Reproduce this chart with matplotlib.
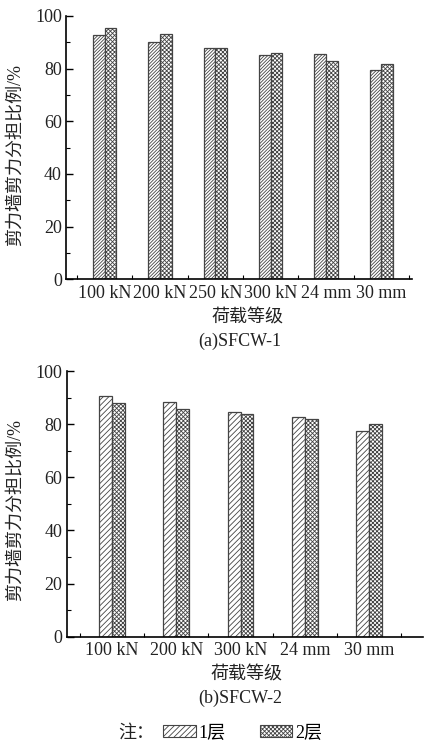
import matplotlib
matplotlib.use('Agg')
from matplotlib import pyplot as plt
from matplotlib.patches import Patch
from matplotlib.ticker import MultipleLocator, FixedLocator
import numpy as np

# data
cats_a = ['100 kN', '200 kN', '250 kN', '300 kN', '24 mm', '30 mm']
floor1_a = [92.8, 90.0, 87.7, 85.2, 85.4, 79.5]
floor2_a = [95.3, 93.0, 88.0, 86.0, 82.9, 81.7]

cats_b = ['100 kN', '200 kN', '300 kN', '24 mm', '30 mm']
floor1_b = [90.6, 88.2, 84.4, 82.6, 77.4]
floor2_b = [88.1, 85.8, 83.7, 81.8, 80.0]

ylab = '剪力墙剪力分担比例/%'
xlab = '荷载等级'
legend_names = ['1层', '2层']

plt.rcParams['font.family'] = ['Liberation Serif', 'Noto Sans CJK SC']
plt.rcParams['hatch.linewidth'] = 0.6
plt.rcParams['hatch.color'] = '#333333'
FS = 13
H2 = 'x' * 8

fig = plt.figure(figsize=(4.33, 7.42), dpi=100)


def draw(ax, cats, s1, s2, w, xmax, labx, laby, h1):
    x = np.arange(len(cats))
    ax.bar(x - w/2, s1, w, facecolor='white', edgecolor='#444444', hatch=h1, linewidth=0.9)
    ax.bar(x + w/2, s2, w, facecolor='white', edgecolor='#444444', hatch=H2, linewidth=0.9)
    ax.set_xlim(-0.7, xmax)
    ax.set_ylim(0, 100)
    ax.spines['top'].set_visible(False)
    ax.spines['right'].set_visible(False)
    ax.spines['left'].set_linewidth(1.2)
    ax.spines['bottom'].set_linewidth(1.2)
    ax.set_xticks(x)
    ax.set_xticklabels(cats, fontsize=FS, color='#222222')
    ax.xaxis.set_minor_locator(FixedLocator(np.arange(len(cats) + 1) - 0.5))
    ax.tick_params(axis='x', which='major', length=0, pad=4)
    ax.tick_params(axis='x', which='minor', direction='in', length=3, width=0.8)
    ax.yaxis.set_major_locator(MultipleLocator(20))
    ax.yaxis.set_minor_locator(MultipleLocator(10))
    ax.tick_params(axis='y', which='major', direction='in', length=5, width=1, labelsize=FS,
                   labelcolor='#222222', pad=3)
    ax.tick_params(axis='y', which='minor', direction='in', length=3, width=0.8)
    ax.set_ylabel(ylab, fontsize=FS, color='#222222')
    ax.yaxis.set_label_coords(labx, laby)


ax1 = fig.add_axes([66/433, 1 - 279.3/742, 345.6/433, 263.3/742])
draw(ax1, cats_a, floor1_a, floor2_a, 0.21, 5.55, -0.122, 0.472, '/' * 10)

ax2 = fig.add_axes([66.7/433, 1 - 636.7/742, 356/433, 265.7/742])
draw(ax2, cats_b, floor1_b, floor2_b, 0.20, 4.83, -0.12, 0.477, '/' * 6)

fig.text(248/433, 1 - 318/742, xlab, fontsize=FS, ha='center', va='center', color='#222222')
fig.text(240/433, 1 - 341/742, '(a)SFCW-1', fontsize=FS, ha='center', va='center', color='#222222')
fig.text(247/433, 1 - 675/742, xlab, fontsize=FS, ha='center', va='center', color='#222222')
fig.text(240/433, 1 - 698/742, '(b)SFCW-2', fontsize=FS, ha='center', va='center', color='#222222')

# legend note at bottom
fig.text(136/433, 1 - 733/742, '注：', fontsize=FS, ha='center', va='center', color='#222222')
handles = [Patch(facecolor='white', edgecolor='#444444', hatch='/' * 6, linewidth=0.8),
           Patch(facecolor='white', edgecolor='#444444', hatch=H2, linewidth=0.8)]
fig.legend(handles, legend_names, loc='center left', bbox_to_anchor=(163/433, 1 - 733/742),
           ncol=2, frameon=False, fontsize=FS, handlelength=1.8, handleheight=0.6,
           handletextpad=0.15, columnspacing=1.9, borderpad=0, borderaxespad=0)

fig.savefig('out.png', dpi=100)
